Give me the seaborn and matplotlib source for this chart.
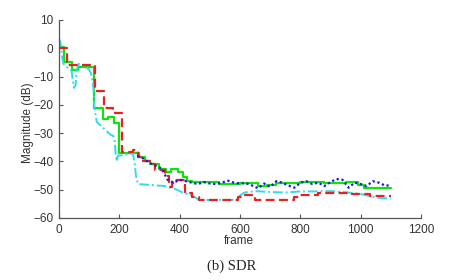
import numpy as np
import pandas as pd
import seaborn as sns
import matplotlib
matplotlib.use('Agg')
import matplotlib.pyplot as plt

# green solid (steps)
green_f = [0, 18, 42, 62, 115, 145, 162, 182, 200, 265, 285, 300, 330, 355, 372, 395, 410, 425, 440, 530,
           600, 640, 660, 690, 720, 800, 880, 950, 990, 1010, 1100]
green_db = [0.5, -5, -7.5, -6.5, -21, -25, -24.3, -26.3, -37, -38.5, -40, -41, -42.5, -43.7, -42.8, -43.8,
            -45.5, -47, -47.3, -48, -47.7, -47.5, -48.8, -48.2, -47.5, -47.3, -47.6, -47.2, -48.5, -49.3, -49.3]

# red dashed (steps)
red_f = [0, 27, 120, 150, 180, 210, 245, 262, 280, 300, 318, 350, 365, 375, 385, 418, 440, 465, 595, 615,
         650, 780, 800, 860, 970, 1030, 1100]
red_db = [0, -6, -15, -21, -23, -36.8, -36, -38.4, -40, -40.8, -43, -45, -49, -47.5, -46.5, -51, -52.5,
          -53.6, -52.6, -52, -53.6, -52.5, -51.8, -51.3, -51.6, -52.2, -52.2]

# cyan dash-dot
cyan_f = [0, 5, 10, 15, 25, 35, 42, 45, 50, 55, 58, 65, 80, 95, 105, 112, 115, 117, 122, 125, 135, 150,
          170, 180, 185, 188, 192, 195, 210, 245, 250, 255, 262, 300, 350, 380, 410, 440, 465, 590, 600,
          615, 650, 700, 750, 800, 850, 900, 960, 1000, 1040, 1070, 1100]
cyan_db = [3.5, 2, -3, -5.5, -6.5, -7.5, -8, -11, -14, -13, -8, -5.5, -6, -7, -8.5, -12, -15, -20.5, -24,
           -26, -27, -28.5, -30.5, -31, -33, -38, -40, -38, -37.8, -37.2, -40, -45, -48, -48.3, -48.7,
           -49.5, -51, -52, -53.6, -53.6, -52, -51, -50.5, -50.8, -51, -50.6, -50.6, -50.5, -51, -51.5,
           -52.5, -53, -53]

# blue dotted
blue_f = [260, 280, 300, 320, 340, 360, 380, 400, 420, 440, 460, 480, 500, 520, 540, 560, 580, 600, 620,
          640, 660, 680, 700, 720, 740, 760, 780, 800, 820, 840, 860, 880, 900, 920, 940, 960, 980, 1000,
          1020, 1040, 1060, 1080, 1100]
blue_db = [-38, -39, -40.5, -41.5, -42.5, -46.5, -47.5, -46.5, -47, -47.5, -48, -47.3, -47.8, -48, -47.5,
           -46.8, -47.5, -47.8, -47.7, -48.5, -49.5, -47.8, -49, -47, -47.5, -48.5, -49.3, -47.6, -47,
           -48, -47.5, -48.7, -47.3, -46.2, -46.5, -49.3, -47.5, -48, -48.7, -47, -47.5, -48.5, -48.5]

sns.set_style('ticks')
plt.rcParams['font.family'] = ['Liberation Sans', 'DejaVu Sans']

fig = plt.figure(figsize=(4.63, 2.8), dpi=100)
ax = fig.add_axes([59 / 463, 1 - 218 / 280, 362 / 463, 198 / 280])

sns.lineplot(x=green_f, y=green_db, ax=ax, color='#11e011', lw=1.6, drawstyle='steps-post',
             estimator=None, sort=False)
sns.lineplot(x=cyan_f, y=cyan_db, ax=ax, color='#30dce8', lw=1.4, dashes=False,
             estimator=None, sort=False).lines[-1].set_dashes([5, 1.5, 1, 1.5])
sns.lineplot(x=red_f, y=red_db, ax=ax, color='#e82020', lw=1.6, drawstyle='steps-post',
             estimator=None, sort=False).lines[-1].set_dashes([4, 2])
sns.lineplot(x=blue_f, y=blue_db, ax=ax, color='#1a1ad8', lw=1.6,
             estimator=None, sort=False).lines[-1].set_dashes([1, 1.2])

ax.set_xlim(0, 1200)
ax.set_ylim(-60, 10)
ax.set_xticks([0, 200, 400, 600, 800, 1000, 1200])
ax.set_yticks([-60, -50, -40, -30, -20, -10, 0, 10])
sns.despine(ax=ax)
for s in ['left', 'bottom']:
    ax.spines[s].set_color('#555555')
    ax.spines[s].set_linewidth(0.9)
ax.tick_params(direction='in', length=3, color='#555555', labelsize=8.5, labelcolor='#333333')
ax.tick_params(axis='x', pad=4)
ax.tick_params(axis='y', pad=4)

ax.set_xlabel('frame', fontsize=8.5, color='#333333')
ax.set_ylabel('Magnitude (dB)', fontsize=8.5, color='#333333')
ax.xaxis.set_label_coords(0.497, -0.085)
ax.yaxis.set_label_coords(-0.07, 0.48)

fig.text(232 / 463, 1 - 266 / 280, '(b) SDR', ha='center', va='center', fontsize=10.5,
         family=['Liberation Serif', 'DejaVu Serif'])

fig.savefig('out.png', dpi=100)
